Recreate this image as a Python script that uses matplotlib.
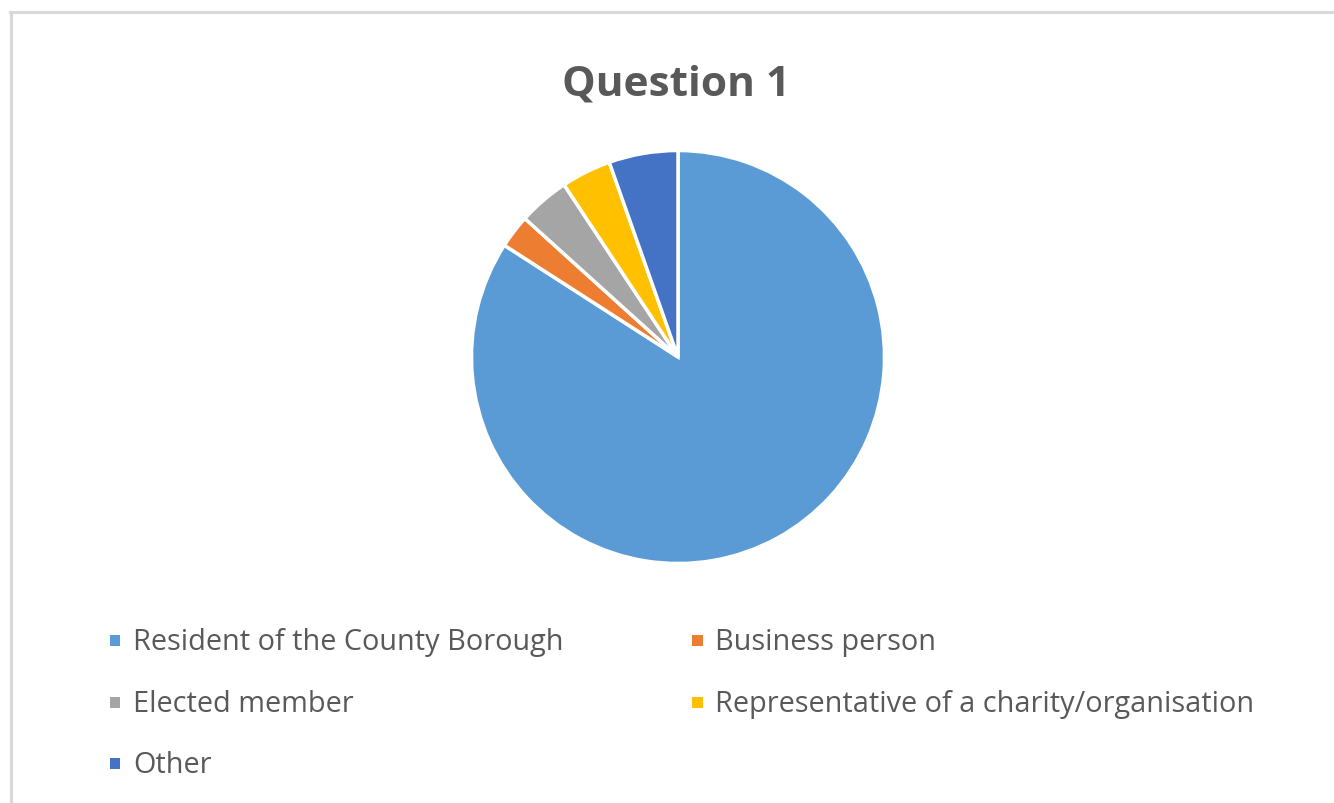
import matplotlib
matplotlib.use("Agg")
import matplotlib.pyplot as plt
from matplotlib.patches import Rectangle

categories = ["Resident of the County Borough", "Business person", "Elected member",
              "Representative of a charity/organisation", "Other"]
values = [84.1, 2.6, 4.0, 3.9, 5.4]
colors = ["#5B9BD5", "#ED7D31", "#A5A5A5", "#FFC000", "#4472C4"]
title = "Question 1"

W, H = 1334, 804
fig = plt.figure(figsize=(W / 100, H / 100), dpi=100)
fig.patch.set_facecolor("white")

# chart border (top and left visible)
fig.add_artist(plt.Line2D([10 / W, 1.0], [1 - 12.5 / H, 1 - 12.5 / H], color="#D9D9D9", lw=2.2))
fig.add_artist(plt.Line2D([10.5 / W, 10.5 / W], [0, 1 - 12.5 / H], color="#D9D9D9", lw=2.2))

cx, cy, r = 678, 358, 206.5
ax = fig.add_axes([(cx - r) / W, (H - cy - r) / H, 2 * r / W, 2 * r / H])
ax.pie(values, colors=colors, startangle=90, counterclock=False,
       wedgeprops=dict(edgecolor="white", linewidth=2.5))
ax.set_xlim(-1, 1)
ax.set_ylim(-1, 1)
ax.axis("off")

fig.text(676 / W, 1 - 96 / H, title, ha="center", va="baseline", fontsize=30.5,
         fontweight="bold", color="#595959", family="Open Sans")

# legend laid out row-major in two columns
col_x = [115, 697]
row_y = [650, 712, 773]
for i, (lab, col) in enumerate(zip(categories, colors)):
    row, c = divmod(i, 2)
    mx, by = col_x[c], row_y[row]
    my = by - 9
    fig.add_artist(Rectangle(((mx - 5.5) / W, 1 - (my + 5.5) / H), 11 / W, 11 / H,
                             transform=fig.transFigure, color=col, lw=0))
    fig.text((mx + 18) / W, 1 - by / H, lab, ha="left", va="baseline",
             fontsize=20.8, color="#595959", family="Open Sans")

fig.savefig("out.png", dpi=100)
